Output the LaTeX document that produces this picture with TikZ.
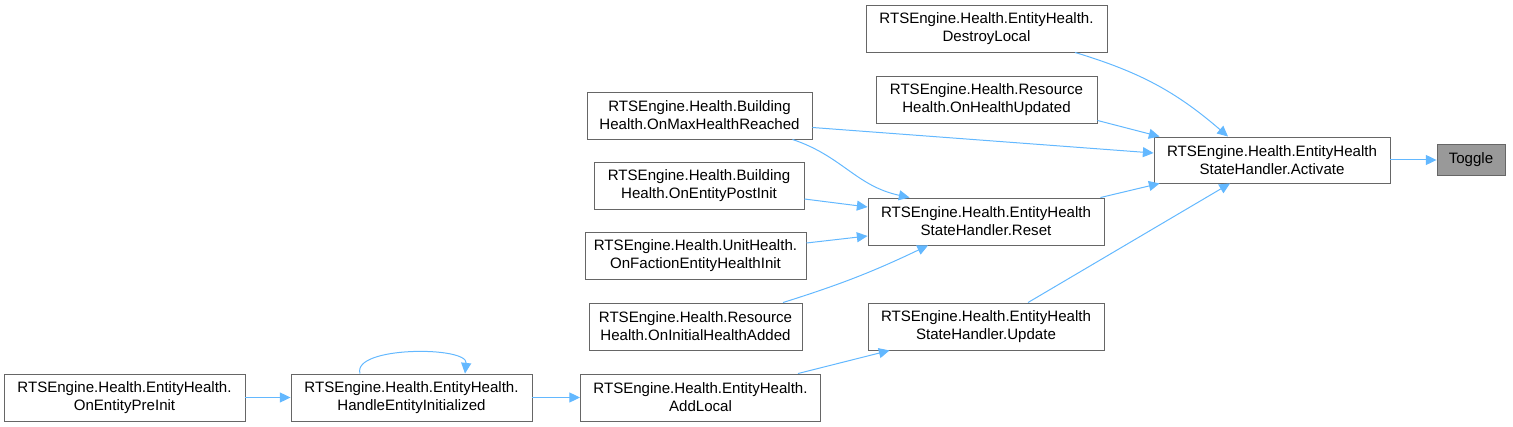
\documentclass[tikz,border=0pt]{standalone}
\usepackage{fontspec}
\setmainfont{Liberation Sans}
\usetikzlibrary{arrows.meta,calc}
\definecolor{edgeblue}{HTML}{63B8FF}
\definecolor{boxgray}{HTML}{666666}
\definecolor{hlgray}{HTML}{999999}
\begin{document}
\begin{tikzpicture}[x=0.75pt,y=-0.75pt,
  box/.style={draw=boxgray, line width=0.7pt, fill=white, inner sep=0pt, align=center,
    font=\fontsize{11.3}{13.4}\selectfont},
  sz/.style 2 args={minimum width=#1*0.75pt, minimum height=#2*0.75pt},
  hl/.style={fill=hlgray},
  edge/.style={draw=edgeblue, line width=0.75pt, -{Triangle[length=8pt,width=7.5pt]}}]
\useasboundingbox (0,0) rectangle (1513,427);
% nodes
\node[box,hl,sz={68}{31}] (toggle) at (1471,160) {Toggle};
\node[box,sz={236}{46}] (activate) at (1272,160) {RTSEngine.Health.EntityHealth\\StateHandler.Activate};
\node[box,sz={241}{47}] (destroy) at (986.5,28.5) {RTSEngine.Health.EntityHealth.\\DestroyLocal};
\node[box,sz={221}{47}] (onhu) at (986.5,99.5) {RTSEngine.Health.Resource\\Health.OnHealthUpdated};
\node[box,sz={225}{47}] (maxh) at (699.5,115.5) {RTSEngine.Health.Building\\Health.OnMaxHealthReached};
\node[box,sz={210}{47}] (postinit) at (699,185.5) {RTSEngine.Health.Building\\Health.OnEntityPostInit};
\node[box,sz={236}{47}] (reset) at (986,221.5) {RTSEngine.Health.EntityHealth\\StateHandler.Reset};
\node[box,sz={221}{47}] (faction) at (695.5,255.5) {RTSEngine.Health.UnitHealth.\\OnFactionEntityHealthInit};
\node[box,sz={213}{47}] (initial) at (695.5,326.5) {RTSEngine.Health.Resource\\Health.OnInitialHealthAdded};
\node[box,sz={236}{47}] (update) at (986,326.5) {RTSEngine.Health.EntityHealth\\StateHandler.Update};
\node[box,sz={241}{47}] (preinit) at (124.5,397.5) {RTSEngine.Health.EntityHealth.\\OnEntityPreInit};
\node[box,sz={241}{47}] (handle) at (411.5,397.5) {RTSEngine.Health.EntityHealth.\\HandleEntityInitialized};
\node[box,sz={240}{47}] (addlocal) at (700.5,397.5) {RTSEngine.Health.EntityHealth.\\AddLocal};
% edges
\draw[edge] (activate.east) -- (toggle.west);
\draw[edge] ($(destroy.south)+(88.5,0)$) to[bend left=12] ($(activate.north)+(-44,0)$);
\draw[edge] ($(onhu.south east)+(0,-3)$) -- ($(activate.north west)+(6,0)$);
\draw[edge] ($(maxh.east)+(0,12)$) -- ($(activate.west)+(0,-7)$);
\draw[edge] ($(reset.north east)+(-4,0)$) -- ($(activate.south west)+(6,0)$);
\draw[edge] ($(update.north)+(42,0)$) -- ($(activate.south)+(-42,0)$);
\draw[edge] ($(maxh.south east)+(-20,0)$) .. controls (842,156) and (856,186) .. ($(reset.north west)+(42,0)$);
\draw[edge] ($(postinit.east)+(0,13.5)$) -- ($(reset.west)+(0,-14.5)$);
\draw[edge] ($(faction.east)+(0,-12.5)$) -- ($(reset.west)+(0,14.5)$);
\draw[edge] ($(initial.north)+(87.5,0)$) to[bend right=4] ($(reset.south)+(-58,0)$);
\draw[edge] ($(addlocal.north east)+(-23,0)$) -- ($(update.south west)+(22,0)$);
\draw[edge] (handle.east) -- (addlocal.west);
\draw[edge] (preinit.east) -- (handle.west);
\draw[edge] ($(handle.north)+(-51.5,0)$) .. controls (352,346) and (468,346) .. ($(handle.north)+(53.5,0)$);
\end{tikzpicture}
\end{document}
